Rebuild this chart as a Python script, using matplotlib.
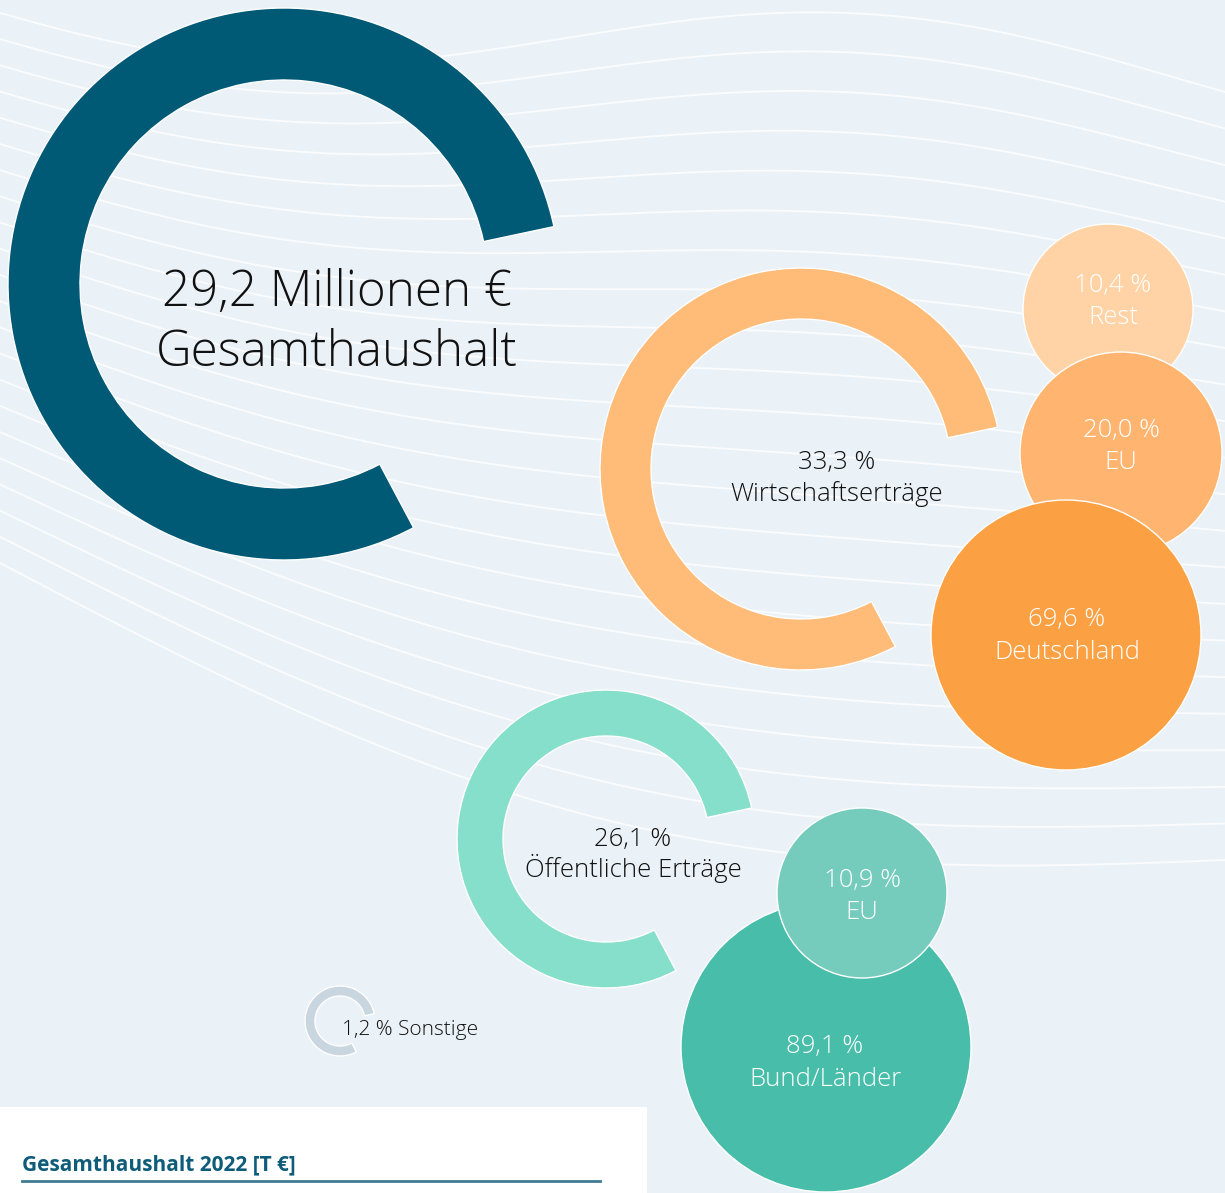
import numpy as np
import matplotlib.pyplot as plt
from matplotlib.patches import Wedge, Circle, Rectangle

# Data
total_label = "29,2 Millionen €"
total_name = "Gesamthaushalt"
main_names = ["Wirtschaftserträge", "Öffentliche Erträge", "Sonstige"]
main_shares = [33.3, 26.1, 1.2]
wirtschaft_names = ["Rest", "EU", "Deutschland"]
wirtschaft_shares = [10.4, 20.0, 69.6]
oeffentlich_names = ["EU", "Bund/Länder"]
oeffentlich_shares = [10.9, 89.1]
box_title = "Gesamthaushalt 2022 [T €]"

W, H = 1225, 1193
BG = "#EAF1F7"

def pct(v):
    return f"{v:.1f}".replace(".", ",") + " %"

def Y(y):
    return H - y

fig = plt.figure(figsize=(W / 100, H / 100), dpi=100, facecolor=BG)
ax = fig.add_axes([0, 0, 1, 1])
ax.set_xlim(0, W)
ax.set_ylim(0, H)
ax.set_aspect("equal")
ax.axis("off")
ax.set_facecolor(BG)
plt.rcParams["font.family"] = ["Open Sans", "DejaVu Sans"]
LIGHT = "light"

# decorative background lines
x = np.linspace(0, W, 400)
u = x / W
n_lines = 22
for i in range(n_lines):
    t = i / (n_lines - 1)
    left = 13 + 550 * t
    right = 92 + 768 * t
    amp = 44 * (1 - t) ** 1.4
    bow = 110 * t ** 1.2
    wave = np.sin(2 * np.pi * (u - 0.46)) + 0.249
    y = left + (right - left) * u + bow * np.sin(np.pi * u) - amp * wave
    ax.plot(x, Y(y), color="white", lw=1.4, alpha=0.75, zorder=1)

# rings (open arcs)
def ring(cx, cy, r_out, r_in, color, z=2):
    ax.add_patch(Wedge((cx, Y(cy)), r_out, 12, 298, width=r_out - r_in,
                       facecolor=color, edgecolor="white", lw=1.0, zorder=z))

ring(284, 284, 276, 204, "#015A75")
ring(801, 469, 201, 150, "#FFBB78")
ring(606, 839, 149, 103, "#86DFCB")
ring(340, 1021, 35, 25, "#C9D6DF")

# bubbles
def bubble(cx, cy, r, color, z):
    ax.add_patch(Circle((cx, Y(cy)), r, facecolor=color, edgecolor="white",
                        lw=1.0, zorder=z))

bubble(1108, 309, 85, "#FFD3A5", 3)
bubble(1121, 453, 101, "#FFB56F", 4)
bubble(1066, 635, 135, "#FBA144", 5)
bubble(826, 1047, 145, "#48BEAA", 3)
bubble(862, 893, 85, "#75CCBD", 4)

# texts
ax.text(337, Y(306), total_label, ha="center", va="baseline", fontsize=35.5,
        fontweight=LIGHT, color="#111111", zorder=8)
ax.text(337, Y(366), total_name, ha="center", va="baseline", fontsize=35.5,
        fontweight=LIGHT, color="#111111", zorder=8)

def two_line(cx, y1, y2, top, bottom, color, fs=18.5):
    ax.text(cx, Y(y1), top, ha="center", va="baseline", fontsize=fs,
            fontweight=LIGHT, color=color, zorder=8)
    ax.text(cx, Y(y2), bottom, ha="center", va="baseline", fontsize=fs,
            fontweight=LIGHT, color=color, zorder=8)

two_line(837, 469, 501, pct(main_shares[0]), main_names[0], "#111111")
two_line(633, 846, 877, pct(main_shares[1]), main_names[1], "#111111")
ax.text(342, Y(1035), pct(main_shares[2]) + " " + main_names[2], ha="left", va="baseline",
        fontsize=15, fontweight=LIGHT, color="#111111", zorder=8)

two_line(1113, 292, 324, pct(wirtschaft_shares[0]), wirtschaft_names[0], "white")
two_line(1121, 437, 469, pct(wirtschaft_shares[1]), wirtschaft_names[1], "white")
two_line(1067, 626, 659, pct(wirtschaft_shares[2]), wirtschaft_names[2], "white")
two_line(862, 887, 919, pct(oeffentlich_shares[0]), oeffentlich_names[0], "white")
two_line(825, 1053, 1086, pct(oeffentlich_shares[1]), oeffentlich_names[1], "white")

# white info box at the bottom
ax.add_patch(Rectangle((0, 0), 647, H - 1107, facecolor="white", edgecolor="none", zorder=9))
ax.text(22, Y(1170), box_title, ha="left", va="baseline", fontsize=15, fontweight="bold",
        color="#0E5C79", zorder=10)
ax.plot([22, 600], [Y(1181), Y(1181)], color="#3E7C92", lw=2, zorder=10)

fig.savefig("out.png", dpi=100, facecolor=BG)
